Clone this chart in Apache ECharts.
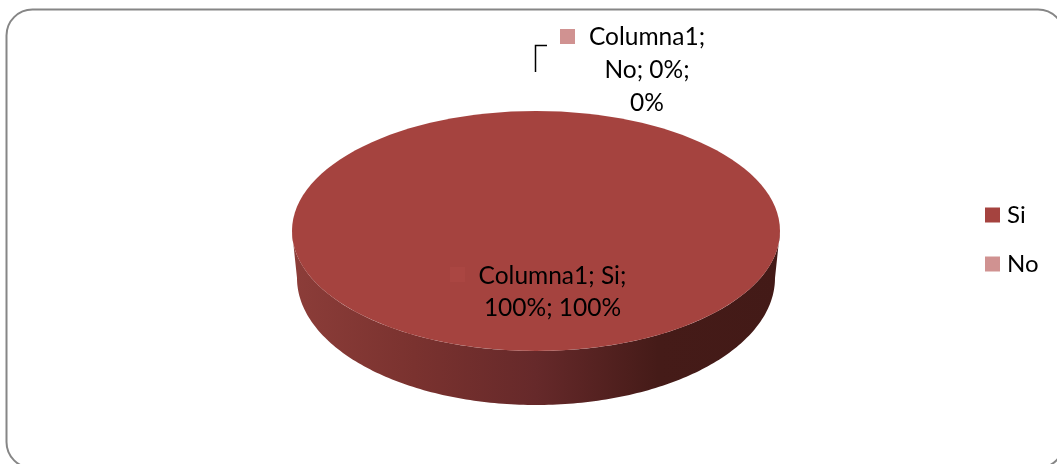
<!DOCTYPE html>
<html><head><meta charset="utf-8">
<style>html,body{margin:0;padding:0;background:#fff}#c{width:1057px;height:464px}</style>
<script src="https://cdn.jsdelivr.net/npm/echarts@6/dist/echarts.min.js"></script>
</head><body><div id="c"></div>
<script>
const categories = ['Si', 'No'];
const values = [100, 0];
const colors = ['#A5433F', '#D09291'];
const seriesName = 'Columna1';
const total = values.reduce((a, b) => a + b, 0);
const FONT = 'Lato, Carlito, sans-serif';

const cx = 536, cy = 231, rx = 244, ry = 120;
const cyBase = 278, rxBase = 239, ryBase = 127;

function sideShape(a0, a1) {
  const pts = [];
  const from = Math.max(a0, 0), to = Math.min(a1, Math.PI);
  if (to <= from) return null;
  for (let i = 0; i <= 180; i++) {
    const t = from + (to - from) * i / 180;
    pts.push([cx + rx * Math.cos(t), cy + ry * Math.sin(t)]);
  }
  for (let i = 180; i >= 0; i--) {
    const t = from + (to - from) * i / 180;
    pts.push([cx + rxBase * Math.cos(t), cyBase + ryBase * Math.sin(t)]);
  }
  return pts;
}

function pieceRenderer(idx) {
  return function (params, api) {
    const v = api.value(0);
    const before = values.slice(0, idx).reduce((a, b) => a + b, 0);
    const start = -Math.PI / 2 + before / total * Math.PI * 2;
    const end = start + v / total * Math.PI * 2;
    const children = [];
    if (v > 0) {
      const side = v === total ? sideShape(0, Math.PI) : sideShape(start, end);
      if (side) children.push({
        type: 'polygon', shape: { points: side }, silent: true,
        style: { fill: new echarts.graphic.LinearGradient(0, 0, 1, 0, [
          { offset: 0, color: '#8C3D39' },
          { offset: 0.25, color: '#7A322F' },
          { offset: 0.5, color: '#66292A' },
          { offset: 0.75, color: '#451B18' },
          { offset: 1, color: '#431A17' }
        ]) }
      });
      children.push({
        type: 'ellipse',
        shape: { cx: cx, cy: cy, rx: rx, ry: ry },
        style: { fill: colors[idx] }
      });
      children.push({ type: 'rect', shape: { x: 450, y: 267, width: 15, height: 15 },
        style: { fill: '#AA4642' }, silent: true });
      children.push({ type: 'text', silent: true,
        style: { x: 552.5, y: 292.5, text: seriesName + '; ' + categories[idx] + ';\n' + v / total * 100 + '%; ' + v + '%',
          font: '24.5px ' + FONT, fill: '#000', align: 'center', verticalAlign: 'middle', lineHeight: 32 } });
    } else {
      children.push({ type: 'polyline', silent: true,
        shape: { points: [[547, 45.5], [535.5, 45.5], [535.5, 72]] },
        style: { stroke: '#000', lineWidth: 1.5, fill: null } });
      children.push({ type: 'rect', shape: { x: 560, y: 29, width: 15, height: 15 },
        style: { fill: colors[idx] }, silent: true });
      children.push({ type: 'text', silent: true,
        style: { x: 647, y: 70, text: seriesName + ';\n' + categories[idx] + '; ' + v / total * 100 + '%;\n' + v + '%',
          font: '24.5px ' + FONT, fill: '#000', align: 'center', verticalAlign: 'middle', lineHeight: 33 } });
    }
    return { type: 'group', children: children };
  };
}

const chart = echarts.init(document.getElementById('c'));
chart.setOption({
  animation: false,
  backgroundColor: '#fff',
  legend: {
    orient: 'vertical', left: 980, top: 198, itemWidth: 15, itemHeight: 15, itemGap: 25,
    icon: 'rect', data: categories,
    textStyle: { fontFamily: FONT, fontSize: 24, color: '#000', padding: [0, 0, 0, 2] }
  },
  graphic: [{
    type: 'rect', z: -1, silent: true,
    shape: { x: 6.5, y: 9.5, width: 1057.5, height: 458.5, r: 26 },
    style: { fill: '#fff', stroke: '#868686', lineWidth: 2 }
  }],
  series: categories.map((name, i) => ({
    type: 'custom', name: name, coordinateSystem: 'none',
    itemStyle: { color: colors[i] },
    data: [[values[i]]],
    renderItem: pieceRenderer(i),
    z: i === 0 ? 2 : 3
  }))
});
</script></body></html>
